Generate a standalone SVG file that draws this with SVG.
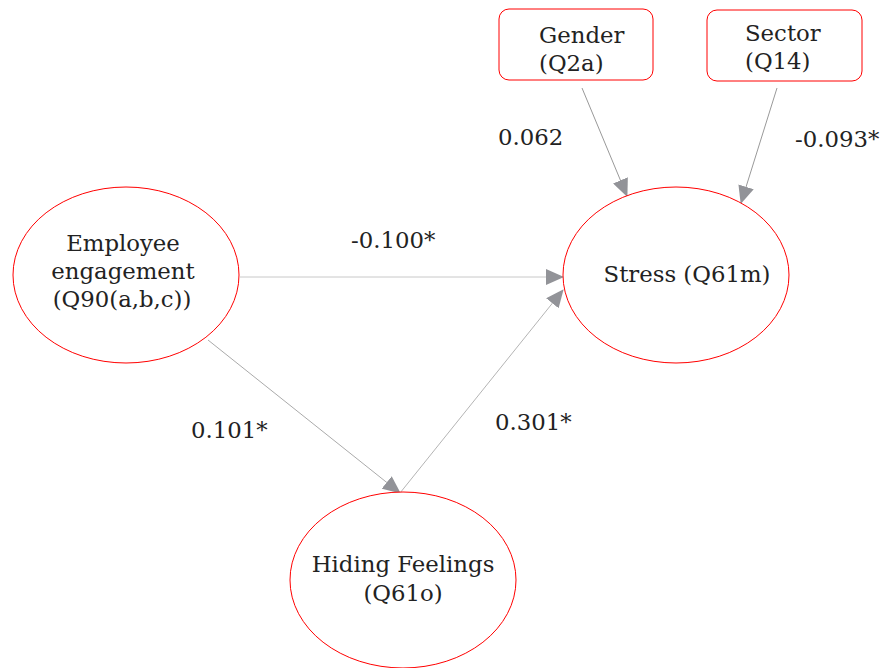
<svg xmlns="http://www.w3.org/2000/svg" width="883" height="668" viewBox="0 0 883 668">
<defs>
<marker id="ah" markerWidth="18" markerHeight="16" refX="17" refY="8" orient="auto" markerUnits="userSpaceOnUse">
<path d="M0,0 L18,8 L0,16 Z" fill="#929398"/>
</marker>
<style>
.node{fill:#fff;stroke:#ff0000;stroke-width:1}
.t{font-family:"DejaVu Serif",serif;font-size:22.8px;fill:#222}
.e{fill:none;stroke-width:1;marker-end:url(#ah)}
</style>
</defs>
<rect width="883" height="668" fill="#fff"/>
<g id="edges">
<line class="e" x1="240" y1="277" x2="563" y2="277" stroke="#c8c8c8"/>
<line class="e" x1="208" y1="340" x2="400" y2="493" stroke="#aaaaaa"/>
<line class="e" x1="400" y1="493" x2="563" y2="290" stroke="#b4b4b4"/>
<line class="e" x1="582" y1="88" x2="627" y2="196" stroke="#999999"/>
<line class="e" x1="777" y1="88" x2="741" y2="203" stroke="#999999"/>
</g>
<g id="labels">
<text class="t" x="498" y="145">0.062</text>
<text class="t" x="795" y="147">-0.093*</text>
<text class="t" x="351" y="248">-0.100*</text>
<text class="t" x="191" y="438">0.101*</text>
<text class="t" x="495" y="430">0.301*</text>
</g>
<g id="employee">
<ellipse class="node" cx="126" cy="275" rx="113" ry="88"/>
<text class="t" x="123" y="251" text-anchor="middle">Employee</text>
<text class="t" x="123" y="279" text-anchor="middle">engagement</text>
<text class="t" x="122" y="307" text-anchor="middle">(Q90(a,b,c))</text>
</g>
<g id="stress">
<ellipse class="node" cx="676" cy="275" rx="113" ry="88"/>
<text class="t" x="687" y="282" text-anchor="middle">Stress (Q61m)</text>
</g>
<g id="hiding">
<ellipse class="node" cx="403" cy="580" rx="113" ry="88"/>
<text class="t" x="403" y="572" text-anchor="middle">Hiding Feelings</text>
<text class="t" x="403" y="601" text-anchor="middle">(Q61o)</text>
</g>
<g id="gender">
<rect class="node" x="499" y="9" width="154" height="71" rx="10"/>
<text class="t" x="539" y="43">Gender</text>
<text class="t" x="539" y="71">(Q2a)</text>
</g>
<g id="sector">
<rect class="node" x="707" y="10" width="155" height="71" rx="10"/>
<text class="t" x="745" y="41">Sector</text>
<text class="t" x="745" y="69">(Q14)</text>
</g>
</svg>
